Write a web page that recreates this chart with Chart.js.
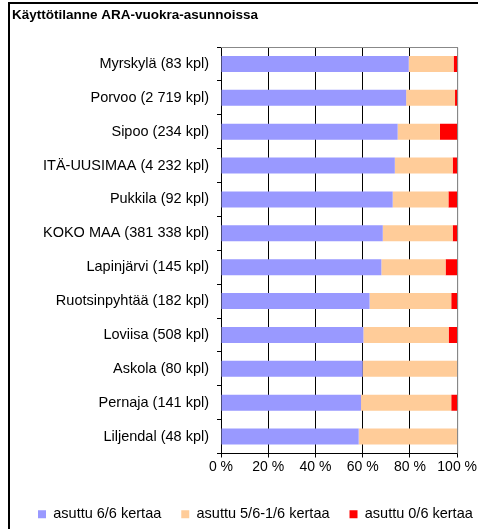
<!DOCTYPE html>
<html>
<head>
<meta charset="utf-8">
<script src="https://cdn.jsdelivr.net/npm/chart.js@4/dist/chart.umd.min.js"></script>
<style>
  html, body { margin: 0; padding: 0; background: #fff; }
  #wrap { position: relative; width: 478px; height: 529px; }
</style>
</head>
<body>
<div id="wrap"><canvas id="c" width="478" height="529"></canvas></div>
<script>
// Municipalities with the number of ARA rental dwellings
const categories = [
  'Myrskylä (83 kpl)',
  'Porvoo (2 719 kpl)',
  'Sipoo (234 kpl)',
  'ITÄ-UUSIMAA (4 232 kpl)',
  'Pukkila (92 kpl)',
  'KOKO MAA (381 338 kpl)',
  'Lapinjärvi (145 kpl)',
  'Ruotsinpyhtää (182 kpl)',
  'Loviisa (508 kpl)',
  'Askola (80 kpl)',
  'Pernaja (141 kpl)',
  'Liljendal (48 kpl)'
];

// Share of dwellings (%) by occupancy during the six check-ups
const occupiedAll = [79.5, 78.4, 74.8, 73.6, 72.7, 68.5, 67.9, 62.9, 60.3, 60.0, 59.3, 58.3];
const occupiedPart = [19.0, 20.7, 17.9, 24.5, 23.6, 29.6, 27.2, 34.6, 36.1, 40.0, 38.2, 41.7];
const occupiedNone = [1.5, 0.9, 7.3, 1.9, 3.7, 1.9, 4.9, 2.5, 3.6, 0.0, 2.5, 0.0];

const seriesNames = ['asuttu 6/6 kertaa', 'asuttu 5/6-1/6 kertaa', 'asuttu 0/6 kertaa'];
const xTicks = [0, 20, 40, 60, 80, 100];

const FONT = 'Liberation Sans, Arial, sans-serif';
Chart.defaults.font.family = FONT;
Chart.defaults.font.size = 14.5;
Chart.defaults.color = '#000';

// Outer frame of the figure, grey plot border and a single-row legend strip
const framePlugin = {
  id: 'frame',
  beforeLayout(chart) {
    const lg = chart.legend;
    if (lg && !lg._fixedFit) {
      const fit = lg.fit;
      lg.fit = function () { fit.call(this); this.height = 42; };
      lg._fixedFit = true;
    }
  },
  afterLayout(chart) {
    const lg = chart.legend;
    if (lg) {
      lg.left += 6;
      lg.right = lg.left + 600;
    }
  },
  beforeDraw(chart) {
    const ctx = chart.ctx;
    ctx.save();
    ctx.fillStyle = '#fff';
    ctx.fillRect(0, 0, chart.width, chart.height);
    ctx.strokeStyle = '#000';
    ctx.lineWidth = 2;
    ctx.beginPath();
    ctx.moveTo(9, chart.height + 2);
    ctx.lineTo(9, 3);
    ctx.lineTo(chart.width + 2, 3);
    ctx.stroke();
    ctx.restore();
  },
  beforeDatasetsDraw(chart) {
    const a = chart.chartArea;
    const ctx = chart.ctx;
    ctx.save();
    ctx.strokeStyle = '#888';
    ctx.lineWidth = 1;
    ctx.beginPath();
    ctx.moveTo(a.left, a.top + 0.5);
    ctx.lineTo(a.right + 0.5, a.top + 0.5);
    ctx.lineTo(a.right + 0.5, a.bottom);
    ctx.stroke();
    ctx.restore();
  }
};

const barOpts = { barPercentage: 0.475, categoryPercentage: 1, borderWidth: 0 };

new Chart(document.getElementById('c'), {
  type: 'bar',
  data: {
    labels: categories,
    datasets: [
      Object.assign({ label: seriesNames[0], data: occupiedAll, backgroundColor: '#9999FF' }, barOpts),
      Object.assign({ label: seriesNames[1], data: occupiedPart, backgroundColor: '#FFCC99' }, barOpts),
      Object.assign({ label: seriesNames[2], data: occupiedNone, backgroundColor: '#FF0000' }, barOpts)
    ]
  },
  options: {
    indexAxis: 'y',
    responsive: false,
    animation: false,
    layout: { padding: { left: 12, right: 20, top: 0, bottom: 0 } },
    scales: {
      x: {
        stacked: true,
        min: 0,
        max: 100,
        afterBuildTicks(scale) { scale.ticks = xTicks.map(v => ({ value: v })); },
        afterFit(scale) { scale.height = 33.5; },
        ticks: {
          padding: 1,
          maxRotation: 0,
          font: { size: 14 },
          callback: v => v + ' %'
        },
        grid: {
          color: ctx => (ctx.tick && ctx.tick.value === 100) ? '#888' : '#000',
          lineWidth: 1,
          tickLength: 4,
          tickColor: '#000'
        },
        border: { color: '#000', width: 1 }
      },
      y: {
        stacked: true,
        afterFit(scale) { scale.width = 209; },
        ticks: { padding: 8 },
        grid: {
          drawOnChartArea: false,
          tickLength: 4,
          color: '#000'
        },
        border: { color: '#000', width: 1 }
      }
    },
    plugins: {
      title: {
        display: true,
        text: 'Käyttötilanne ARA-vuokra-asunnoissa',
        align: 'start',
        font: { family: FONT, size: 13.5, weight: 'bold' },
        color: '#000',
        padding: { top: 7.5, bottom: 23.3 }
      },
      legend: {
        position: 'bottom',
        align: 'start',
        labels: {
          boxWidth: 8,
          boxHeight: 8,
          padding: 20,
          font: { family: FONT, size: 14.5 },
          color: '#000'
        }
      },
      tooltip: { enabled: false }
    }
  },
  plugins: [framePlugin]
});
</script>
</body>
</html>
